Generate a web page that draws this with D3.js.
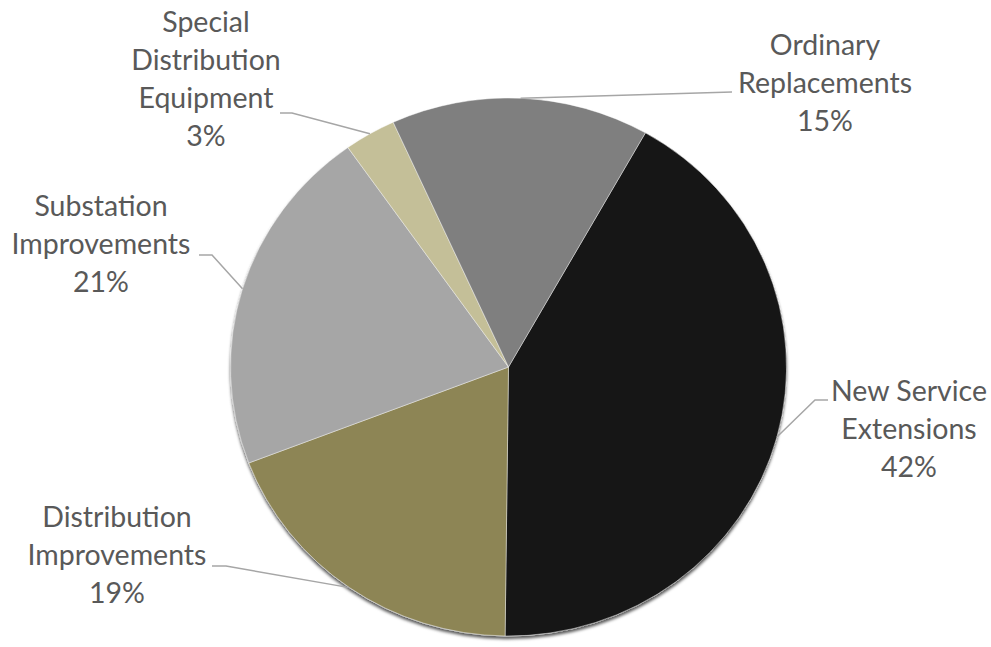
<!DOCTYPE html>
<html>
<head>
<meta charset="utf-8">
<script src="https://cdnjs.cloudflare.com/ajax/libs/d3/7.8.5/d3.min.js"></script>
<style>
  body { margin: 0; background: #fff; }
  svg { display: block; }
  .lbl { font-family: Lato, "Open Sans", sans-serif; font-size: 28.5px; fill: #595959; }
</style>
</head>
<body>
<div id="chart"></div>
<script>
// slices in clockwise order, starting from the one at ~30deg
const categories = ["New Service Extensions", "Distribution Improvements", "Substation Improvements",
                    "Special Distribution Equipment", "Ordinary Replacements"];
const values = [42, 19, 21, 3, 15];
const colors = ["#121212", "#8d8555", "#a6a6a6", "#c4bf98", "#7f7f7f"];
const labelLines = [["New Service", "Extensions", "42%"],
                    ["Distribution", "Improvements", "19%"],
                    ["Substation", "Improvements", "21%"],
                    ["Special", "Distribution", "Equipment", "3%"],
                    ["Ordinary", "Replacements", "15%"]];

const w = 991, h = 647;
const cx = 508.5, cy = 367, rx = 278, ry = 269;
const start = 29.5 * Math.PI / 180;

// label block: centre x, first baseline, and where the leader starts
const layout = [
  {x: 909, y: 401, lx: 828, ly: 400, hx: 815},
  {x: 117, y: 527, lx: 212, ly: 566, hx: 226},
  {x: 101, y: 216, lx: 199, ly: 255, hx: 212},
  {x: 206, y: 32,  lx: 280, ly: 113, hx: 292},
  {x: 825, y: 55,  lx: 732, ly: 92,  hx: 732}
];

const svg = d3.select("#chart").append("svg")
  .attr("width", w).attr("height", h);

const defs = svg.append("defs");
const f = defs.append("filter").attr("id", "shadow")
  .attr("x", "-10%").attr("y", "-10%").attr("width", "120%").attr("height", "120%");
f.append("feDropShadow").attr("dx", 0).attr("dy", 3).attr("stdDeviation", 1.6)
  .attr("flood-color", "#000").attr("flood-opacity", 0.65);

const pie = d3.pie().sort(null).value(d => d)
  .startAngle(start).endAngle(start + 2 * Math.PI);
const arcs = pie(values);
const arc = d3.arc().innerRadius(0).outerRadius(rx);

const g = svg.append("g")
  .attr("transform", "translate(" + cx + "," + cy + ") scale(1," + (ry / rx) + ")")
  .attr("filter", "url(#shadow)");

g.selectAll("path")
  .data(arcs)
  .enter()
  .append("path")
  .attr("d", arc)
  .attr("fill", (d, i) => colors[i])
  .attr("stroke", "rgba(255,255,255,0.45)")
  .attr("stroke-width", 1);

// leader lines from the label to the middle of each slice's rim
svg.selectAll(".leader")
  .data(arcs)
  .enter()
  .append("path")
  .attr("class", "leader")
  .attr("fill", "none")
  .attr("stroke", "#a6a6a6")
  .attr("stroke-width", 1.5)
  .attr("d", (d, i) => {
    const a = (d.startAngle + d.endAngle) / 2;
    const ex = cx + rx * Math.sin(a);
    const ey = cy - ry * Math.cos(a);
    const L = layout[i];
    return "M" + L.lx + "," + L.ly + "H" + L.hx + "L" + ex + "," + ey;
  });

const lbl = svg.selectAll(".lbl")
  .data(labelLines)
  .enter()
  .append("text")
  .attr("class", "lbl")
  .attr("text-anchor", "middle")
  .attr("x", (d, i) => layout[i].x)
  .attr("y", (d, i) => layout[i].y);

lbl.selectAll("tspan")
  .data((d, i) => d.map(t => ({t: t, x: layout[i].x})))
  .enter()
  .append("tspan")
  .attr("x", d => d.x)
  .attr("dy", (d, j) => j === 0 ? 0 : 38)
  .text(d => d.t);
</script>
</body>
</html>
